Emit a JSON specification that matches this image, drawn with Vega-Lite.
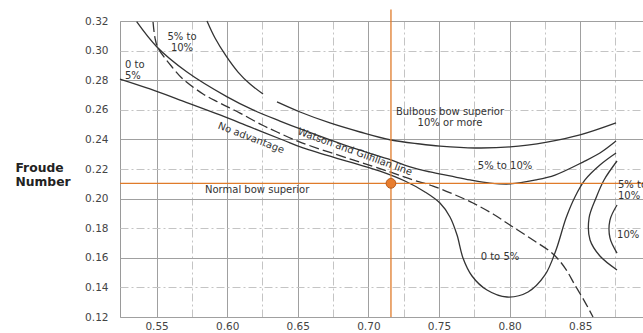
{
  "$schema": "https://vega.github.io/schema/vega-lite/v6.json",
  "width": 523,
  "height": 296,
  "autosize": {"type": "none"},
  "padding": {"left": 120, "top": 21, "right": 0, "bottom": 16},
  "background": "white",
  "config": {
    "view": {"stroke": "#9a9a9a", "strokeWidth": 1},
    "font": "DejaVu Sans",
    "text": {"font": "DejaVu Sans", "fontSize": 10, "color": "#333", "lineBreak": "\n", "lineHeight": 11}
  },
  "datasets": {
    "curves": [
      {"curve": "N", "i": 0, "cb": 0.5241, "fn": 0.2808},
      {"curve": "N", "i": 1, "cb": 0.5453, "fn": 0.2741},
      {"curve": "N", "i": 2, "cb": 0.5666, "fn": 0.2666},
      {"curve": "N", "i": 3, "cb": 0.5949, "fn": 0.2565},
      {"curve": "N", "i": 4, "cb": 0.6162, "fn": 0.2484},
      {"curve": "N", "i": 5, "cb": 0.6395, "fn": 0.2396},
      {"curve": "N", "i": 6, "cb": 0.6537, "fn": 0.2342},
      {"curve": "N", "i": 7, "cb": 0.6891, "fn": 0.2241},
      {"curve": "N", "i": 8, "cb": 0.7082, "fn": 0.2186},
      {"curve": "N", "i": 9, "cb": 0.7259, "fn": 0.2119},
      {"curve": "N", "i": 10, "cb": 0.7401, "fn": 0.2045},
      {"curve": "N", "i": 11, "cb": 0.7507, "fn": 0.1970},
      {"curve": "N", "i": 12, "cb": 0.7578, "fn": 0.1876},
      {"curve": "N", "i": 13, "cb": 0.7628, "fn": 0.1754},
      {"curve": "N", "i": 14, "cb": 0.7670, "fn": 0.1599},
      {"curve": "N", "i": 15, "cb": 0.7734, "fn": 0.1477},
      {"curve": "N", "i": 16, "cb": 0.7840, "fn": 0.1382},
      {"curve": "N", "i": 17, "cb": 0.7982, "fn": 0.1335},
      {"curve": "N", "i": 18, "cb": 0.8131, "fn": 0.1369},
      {"curve": "N", "i": 19, "cb": 0.8251, "fn": 0.1484},
      {"curve": "N", "i": 20, "cb": 0.8329, "fn": 0.1653},
      {"curve": "N", "i": 21, "cb": 0.8400, "fn": 0.1869},
      {"curve": "N", "i": 22, "cb": 0.8463, "fn": 0.2011},
      {"curve": "N", "i": 23, "cb": 0.8534, "fn": 0.2126},
      {"curve": "N", "i": 24, "cb": 0.8640, "fn": 0.2227},
      {"curve": "N", "i": 25, "cb": 0.8754, "fn": 0.2308},
      {"curve": "L1", "i": 0, "cb": 0.5359, "fn": 0.3195},
      {"curve": "L1", "i": 1, "cb": 0.5501, "fn": 0.3026},
      {"curve": "L1", "i": 2, "cb": 0.5713, "fn": 0.2857},
      {"curve": "L1", "i": 3, "cb": 0.5997, "fn": 0.2689},
      {"curve": "L1", "i": 4, "cb": 0.6183, "fn": 0.2599},
      {"curve": "L1", "i": 5, "cb": 0.6374, "fn": 0.2524},
      {"curve": "L1", "i": 6, "cb": 0.6537, "fn": 0.2464},
      {"curve": "L1", "i": 7, "cb": 0.6891, "fn": 0.2342},
      {"curve": "L1", "i": 8, "cb": 0.7160, "fn": 0.2261},
      {"curve": "L1", "i": 9, "cb": 0.7295, "fn": 0.2214},
      {"curve": "L1", "i": 10, "cb": 0.7437, "fn": 0.2180},
      {"curve": "L1", "i": 11, "cb": 0.7578, "fn": 0.2153},
      {"curve": "L1", "i": 12, "cb": 0.7720, "fn": 0.2126},
      {"curve": "L1", "i": 13, "cb": 0.7861, "fn": 0.2105},
      {"curve": "L1", "i": 14, "cb": 0.8003, "fn": 0.2099},
      {"curve": "L1", "i": 15, "cb": 0.8187, "fn": 0.2126},
      {"curve": "L1", "i": 16, "cb": 0.8322, "fn": 0.2159},
      {"curve": "L1", "i": 17, "cb": 0.8520, "fn": 0.2247},
      {"curve": "L1", "i": 18, "cb": 0.8640, "fn": 0.2308},
      {"curve": "L1", "i": 19, "cb": 0.8754, "fn": 0.2389},
      {"curve": "L2a", "i": 0, "cb": 0.5857, "fn": 0.3200},
      {"curve": "L2a", "i": 1, "cb": 0.5914, "fn": 0.3085},
      {"curve": "L2a", "i": 2, "cb": 0.5992, "fn": 0.2964},
      {"curve": "L2a", "i": 3, "cb": 0.6077, "fn": 0.2855},
      {"curve": "L2a", "i": 4, "cb": 0.6162, "fn": 0.2774},
      {"curve": "L2a", "i": 5, "cb": 0.6254, "fn": 0.2707},
      {"curve": "L2b", "i": 0, "cb": 0.6353, "fn": 0.2653},
      {"curve": "L2b", "i": 1, "cb": 0.6516, "fn": 0.2585},
      {"curve": "L2b", "i": 2, "cb": 0.6728, "fn": 0.2511},
      {"curve": "L2b", "i": 3, "cb": 0.6941, "fn": 0.2450},
      {"curve": "L2b", "i": 4, "cb": 0.7160, "fn": 0.2396},
      {"curve": "L2b", "i": 5, "cb": 0.7366, "fn": 0.2369},
      {"curve": "L2b", "i": 6, "cb": 0.7507, "fn": 0.2355},
      {"curve": "L2b", "i": 7, "cb": 0.7755, "fn": 0.2342},
      {"curve": "L2b", "i": 8, "cb": 0.8003, "fn": 0.2349},
      {"curve": "L2b", "i": 9, "cb": 0.8265, "fn": 0.2382},
      {"curve": "L2b", "i": 10, "cb": 0.8499, "fn": 0.2430},
      {"curve": "L2b", "i": 11, "cb": 0.8754, "fn": 0.2511},
      {"curve": "C", "i": 0, "cb": 0.8761, "fn": 0.2254},
      {"curve": "C", "i": 1, "cb": 0.8669, "fn": 0.2126},
      {"curve": "C", "i": 2, "cb": 0.8612, "fn": 0.2004},
      {"curve": "C", "i": 3, "cb": 0.8563, "fn": 0.1869},
      {"curve": "C", "i": 4, "cb": 0.8570, "fn": 0.1720},
      {"curve": "C", "i": 5, "cb": 0.8640, "fn": 0.1612},
      {"curve": "C", "i": 6, "cb": 0.8761, "fn": 0.1518},
      {"curve": "A10", "i": 0, "cb": 0.8761, "fn": 0.1957},
      {"curve": "A10", "i": 1, "cb": 0.8711, "fn": 0.1855},
      {"curve": "A10", "i": 2, "cb": 0.8711, "fn": 0.1734},
      {"curve": "A10", "i": 3, "cb": 0.8761, "fn": 0.1632}
    ],
    "watson": [
      {"i": 0, "cb": 0.5475, "fn": 0.3193},
      {"i": 1, "cb": 0.5489, "fn": 0.3085},
      {"i": 2, "cb": 0.5510, "fn": 0.3018},
      {"i": 3, "cb": 0.5616, "fn": 0.2882},
      {"i": 4, "cb": 0.5687, "fn": 0.2808},
      {"i": 5, "cb": 0.5829, "fn": 0.2707},
      {"i": 6, "cb": 0.5949, "fn": 0.2646},
      {"i": 7, "cb": 0.6091, "fn": 0.2578},
      {"i": 8, "cb": 0.6247, "fn": 0.2497},
      {"i": 9, "cb": 0.6353, "fn": 0.2450},
      {"i": 10, "cb": 0.6516, "fn": 0.2382},
      {"i": 11, "cb": 0.6891, "fn": 0.2261},
      {"i": 12, "cb": 0.7153, "fn": 0.2180},
      {"i": 13, "cb": 0.7316, "fn": 0.2126},
      {"i": 14, "cb": 0.7458, "fn": 0.2085},
      {"i": 15, "cb": 0.7599, "fn": 0.2031},
      {"i": 16, "cb": 0.7741, "fn": 0.1970},
      {"i": 17, "cb": 0.7883, "fn": 0.1896},
      {"i": 18, "cb": 0.8024, "fn": 0.1808},
      {"i": 19, "cb": 0.8166, "fn": 0.1720},
      {"i": 20, "cb": 0.8308, "fn": 0.1626},
      {"i": 21, "cb": 0.8393, "fn": 0.1531},
      {"i": 22, "cb": 0.8463, "fn": 0.1416},
      {"i": 23, "cb": 0.8534, "fn": 0.1301},
      {"i": 24, "cb": 0.8591, "fn": 0.1200}
    ],
    "ship": [{"cb": 0.716, "fn": 0.2103}],
    "labelsCenter": [
      {"label": "5% to\n10%", "cb": 0.5680, "fn": 0.3089},
      {"label": "Bulbous bow superior\n10% or more", "cb": 0.7578, "fn": 0.2585},
      {"label": "5% to 10%", "cb": 0.7968, "fn": 0.2220},
      {"label": "0 to 5%", "cb": 0.7932, "fn": 0.1605}
    ],
    "labelsLeft": [
      {"label": "0 to\n5%", "cb": 0.5276, "fn": 0.2905},
      {"label": "Normal bow superior", "cb": 0.5843, "fn": 0.2058},
      {"label": "5% to\n10%", "cb": 0.8768, "fn": 0.2089},
      {"label": "10%", "cb": 0.8761, "fn": 0.1754}
    ],
    "labelsRotA": [
      {"label": "No advantage", "cb": 0.6169, "fn": 0.2409}
    ],
    "labelsRotB": [
      {"label": "Watson and Gilfillan line", "cb": 0.6905, "fn": 0.2315}
    ]
  },
  "layer": [
    {
      "data": {"name": "curves"},
      "mark": {"type": "line", "color": "#333", "strokeWidth": 1.3, "interpolate": "catmull-rom"},
      "encoding": {
        "x": {
          "field": "cb", "type": "quantitative",
          "scale": {"domain": [0.5241, 0.8945], "nice": false, "zero": false},
          "axis": {
            "title": null,
            "values": [0.55, 0.575, 0.6, 0.625, 0.65, 0.675, 0.7, 0.725, 0.75, 0.775, 0.8, 0.825, 0.85, 0.875],
            "tickCount": 40,
            "labelExpr": "round(datum.value*1000) % 50 == 0 ? format(datum.value, '.2f') : ''",
            "labelOverlap": false,
            "grid": true,
            "gridColor": {"condition": {"test": "round(datum.value*1000) % 50 != 0", "value": "#c4c4c4"}, "value": "#a0a0a0"},
            "gridDash": {"condition": {"test": "round(datum.value*1000) % 50 != 0", "value": [8, 3, 2, 3]}, "value": []},
            "gridWidth": 1,
            "ticks": false, "tickSize": 0, "domain": false,
            "labelPadding": 4,
            "labelFont": "DejaVu Sans", "labelFontSize": 10.5, "labelColor": "#444"
          }
        },
        "y": {
          "field": "fn", "type": "quantitative",
          "scale": {"domain": [0.12, 0.32], "nice": false, "zero": false},
          "axis": {
            "title": ["Froude", "Number"],
            "titleAngle": 0, "titleAlign": "left", "titleBaseline": "top",
            "titleX": -105, "titleY": 140,
            "titleFont": "DejaVu Sans", "titleFontWeight": "bold", "titleFontSize": 12.3,
            "titleLineHeight": 14, "titleColor": "#222",
            "values": [0.12, 0.14, 0.16, 0.18, 0.2, 0.22, 0.24, 0.26, 0.28, 0.3, 0.32],
            "tickCount": 40,
            "format": ".2f",
            "labelOverlap": false,
            "grid": true,
            "gridColor": {"condition": {"test": "round(datum.value*100) % 4 != 0", "value": "#c4c4c4"}, "value": "#a0a0a0"},
            "gridDash": {"condition": {"test": "round(datum.value*100) % 4 != 0", "value": [8, 3, 2, 3]}, "value": []},
            "gridWidth": 1,
            "ticks": false, "tickSize": 0, "domain": false,
            "labelPadding": 12,
            "labelFont": "DejaVu Sans", "labelFontSize": 10.5, "labelColor": "#444"
          }
        },
        "detail": {"field": "curve"},
        "order": {"field": "i", "type": "quantitative"}
      }
    },
    {
      "data": {"name": "watson"},
      "mark": {"type": "line", "color": "#333", "strokeWidth": 1.3, "strokeDash": [10, 4], "interpolate": "catmull-rom"},
      "encoding": {
        "x": {"field": "cb", "type": "quantitative"},
        "y": {"field": "fn", "type": "quantitative"},
        "order": {"field": "i", "type": "quantitative"}
      }
    },
    {
      "data": {"name": "ship"},
      "mark": {"type": "rule", "color": "#e07b2a", "strokeWidth": 1.3},
      "encoding": {"y": {"field": "fn", "type": "quantitative"}}
    },
    {
      "data": {"name": "ship"},
      "mark": {"type": "rule", "color": "#e07b2a", "strokeWidth": 1.3},
      "encoding": {
        "x": {"field": "cb", "type": "quantitative"},
        "y": {"datum": 0.12},
        "y2": {"datum": 0.3278}
      }
    },
    {
      "data": {"name": "ship"},
      "mark": {"type": "point", "filled": true, "size": 95, "fill": "#e87d2e", "stroke": "#b55a1c", "strokeWidth": 1, "opacity": 1},
      "encoding": {
        "x": {"field": "cb", "type": "quantitative"},
        "y": {"field": "fn", "type": "quantitative"}
      }
    },
    {
      "data": {"name": "labelsCenter"},
      "mark": {"type": "text", "align": "center", "baseline": "middle"},
      "encoding": {
        "x": {"field": "cb", "type": "quantitative"},
        "y": {"field": "fn", "type": "quantitative"},
        "text": {"field": "label"}
      }
    },
    {
      "data": {"name": "labelsLeft"},
      "mark": {"type": "text", "align": "left", "baseline": "middle"},
      "encoding": {
        "x": {"field": "cb", "type": "quantitative"},
        "y": {"field": "fn", "type": "quantitative"},
        "text": {"field": "label"}
      }
    },
    {
      "data": {"name": "labelsRotA"},
      "mark": {"type": "text", "align": "center", "baseline": "middle", "angle": 21},
      "encoding": {
        "x": {"field": "cb", "type": "quantitative"},
        "y": {"field": "fn", "type": "quantitative"},
        "text": {"field": "label"}
      }
    },
    {
      "data": {"name": "labelsRotB"},
      "mark": {"type": "text", "align": "center", "baseline": "middle", "angle": 20},
      "encoding": {
        "x": {"field": "cb", "type": "quantitative"},
        "y": {"field": "fn", "type": "quantitative"},
        "text": {"field": "label"}
      }
    }
  ]
}
